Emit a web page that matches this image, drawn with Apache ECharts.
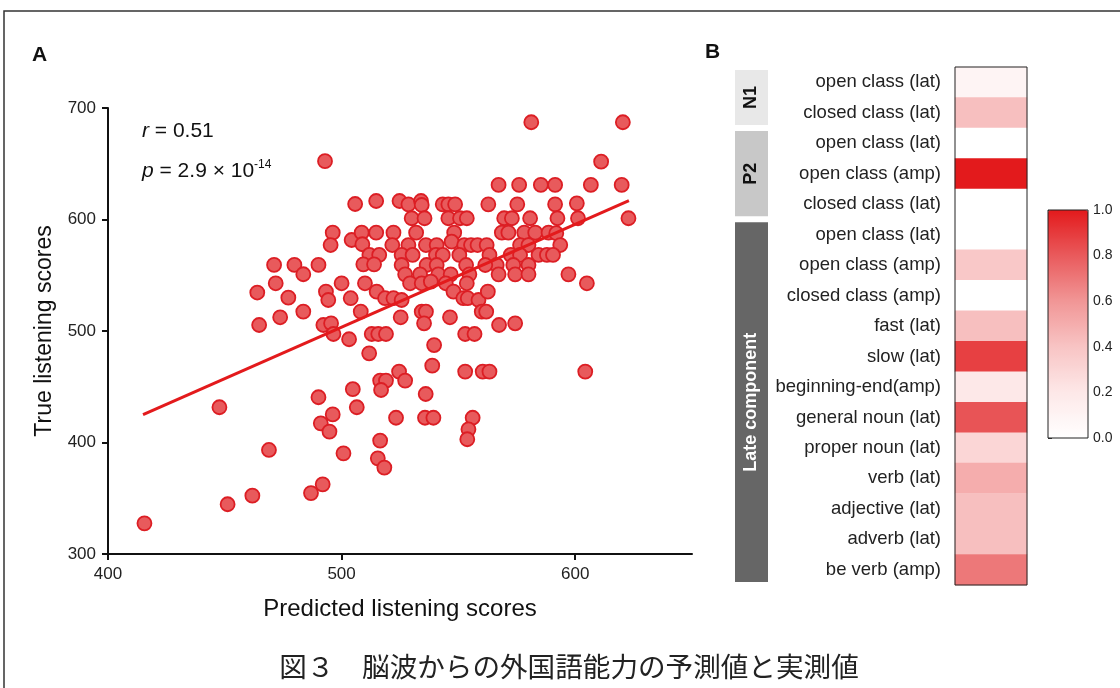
<!DOCTYPE html>
<html>
<head>
<meta charset="utf-8">
<script src="https://cdn.jsdelivr.net/npm/echarts@6/dist/echarts.min.js"></script>
<style>
    html, body { margin: 0; padding: 0; background: #fff; }
    #chart { width: 1120px; height: 688px; }
</style>
</head>
<body>
<div id="chart"></div>
<script>
    // A: predicted vs true listening scores
    var predicted = [
        492.9, 505.8, 514.8, 496.2, 495.3, 504.3, 508.6, 514.8, 508.9, 511.9,
        516.1, 522.2, 521.7, 509.3, 513.9, 471.1, 479.8, 490.1, 483.6, 471.8,
        463.9, 477.2, 483.6, 473.7, 464.7, 493.3, 494.3, 500.0, 510.0, 503.9,
        515.0, 518.6, 522.2, 508.2, 492.2, 495.5,
        581.2, 620.4, 611.1, 567.2, 576.0, 585.3, 591.4, 606.7, 619.9, 524.8,
        528.6, 534.0, 534.3, 543.3, 545.7, 548.6, 562.8, 575.2, 591.4, 600.7,
        530.0, 535.5, 545.7, 550.7, 553.6, 569.6, 572.9, 580.7, 592.4, 601.2,
        622.8, 531.9, 548.2, 568.6, 571.4, 578.2, 582.9, 588.6, 591.9, 547.1,
        528.6, 536.1, 540.7, 552.5, 555.4, 558.2, 562.1, 576.4, 580.0, 593.6,
        525.7, 530.4, 540.4, 543.3, 550.4, 563.3, 572.4, 576.4, 584.3, 587.9,
        590.5, 525.7, 536.4, 540.7, 553.3, 566.4, 573.5, 580.0, 561.5, 527.2,
        533.6, 541.4, 546.7, 554.7, 567.2, 574.3, 580.0, 597.1, 529.3, 534.3,
        538.2, 544.6, 553.6, 605.0, 525.7, 547.9, 552.1, 554.0, 558.6, 562.6,
        534.3, 536.1, 560.0, 561.9, 525.3, 546.4, 535.3, 567.4, 574.3,
        447.7, 415.6, 451.2, 461.8, 468.9, 496.5, 503.2, 511.8, 512.9, 515.7,
        519.0, 539.6, 538.8, 552.9, 556.9, 524.6, 527.2, 516.5, 519.0, 516.9,
        504.8, 506.5, 490.1, 496.2, 491.1, 494.8, 500.8, 491.9, 486.9, 523.3,
        516.5, 515.5, 518.3, 536.0, 535.7, 539.3, 552.9, 560.4, 563.3, 556.1,
        554.3, 553.8, 604.3
    ];
    var actual = [
        652.3, 613.9, 616.6, 588.2, 577.1, 581.6, 588.2, 588.2, 577.8, 568.2,
        568.2, 588.2, 577.1, 559.8, 559.8, 559.3, 559.3, 559.3, 550.9, 542.8,
        534.5, 529.9, 517.4, 512.3, 505.4, 535.3, 527.8, 542.8, 542.8, 529.4,
        535.3, 529.4, 529.4, 517.4, 505.4, 506.9,
        687.2, 687.2, 651.9, 631.0, 631.0, 631.0, 631.0, 631.0, 631.0, 616.6,
        613.6, 616.6, 613.0, 613.6, 613.6, 613.6, 613.6, 613.6, 613.6, 614.5,
        601.1, 601.1, 601.1, 601.1, 601.1, 601.1, 601.1, 601.1, 601.1, 601.1,
        601.1, 588.2, 588.2, 588.2, 588.2, 588.2, 588.2, 588.2, 587.7, 580.1,
        577.1, 577.1, 577.1, 577.1, 577.1, 577.1, 577.1, 577.1, 577.1, 577.1,
        568.2, 568.2, 568.2, 568.2, 568.2, 568.2, 568.2, 568.2, 568.2, 568.2,
        568.2, 559.2, 559.2, 559.2, 559.2, 559.2, 559.2, 559.2, 559.2, 550.8,
        550.8, 550.8, 550.8, 550.8, 550.8, 550.8, 550.8, 550.8, 542.8, 542.8,
        544.3, 542.8, 542.8, 542.8, 527.8, 535.3, 529.4, 529.4, 527.8, 535.3,
        517.3, 517.3, 517.3, 517.3, 512.3, 512.3, 506.9, 505.4, 506.9,
        431.6, 327.5, 344.6, 352.3, 393.3, 497.3, 492.6, 480.0, 497.3, 497.3,
        497.3, 487.4, 468.9, 497.3, 497.3, 463.6, 455.5, 455.5, 455.5, 447.1,
        447.8, 431.6, 440.6, 425.2, 417.2, 409.8, 390.3, 362.5, 354.6, 422.2,
        401.7, 385.8, 377.5, 443.5, 422.2, 422.2, 463.6, 463.6, 463.6, 422.2,
        411.8, 402.9, 463.6
    ];
    var fitX = [415, 623];
    var fitY = [425, 617];
    var xTicks = [400, 500, 600];

    // B: feature weights
    var rowLabels = [
        'open class (lat)', 'closed class (lat)', 'open class (lat)', 'open class (amp)',
        'closed class (lat)', 'open class (lat)', 'open class (amp)', 'closed class (amp)',
        'fast (lat)', 'slow (lat)', 'beginning-end(amp)', 'general noun (lat)',
        'proper noun (lat)', 'verb (lat)', 'adjective (lat)', 'adverb (lat)', 'be verb (amp)'
    ];
    var rowValues = [0.1, 0.42, 0, 1, 0, 0, 0.38, 0, 0.42, 0.88, 0.2, 0.82, 0.3, 0.5, 0.42, 0.42, 0.7];
    var groupNames = ['N1', 'P2', 'Late component'];
    var groupFrom = [0, 2, 5];
    var groupTo = [1, 4, 16];
    var groupFill = ['#e8e8e8', '#c8c8c8', '#666666'];
    var groupInk = ['#111111', '#111111', '#ffffff'];

    var FONT = '"Liberation Sans", Arial, sans-serif';

    var scatterData = predicted.map(function (v, i) { return [v, actual[i]]; });
    var fitData = fitX.map(function (v, i) { return [v, fitY[i]]; });
    var heatData = rowValues.map(function (v, i) { return [0, i, v]; });
    var groupData = groupNames.map(function (n, i) { return [0, groupFrom[i], groupTo[i], i]; });

    var chart = echarts.init(document.getElementById('chart'));
    chart.setOption({
        backgroundColor: '#fff',
        animation: false,
        textStyle: { fontFamily: FONT },
        grid: [
            { left: 108, top: 108, width: 584, height: 446 },
            { left: 955, top: 67, width: 72, height: 518, show: true, z: 10,
              backgroundColor: 'transparent', borderColor: '#222', borderWidth: 1 },
            { left: 1048, top: 210, width: 40, height: 228, show: true, z: 10,
              backgroundColor: 'transparent', borderColor: '#222', borderWidth: 1 }
        ],
        xAxis: [
            {
                gridIndex: 0, type: 'value', min: 400, max: 650,
                name: 'Predicted listening scores', nameLocation: 'middle', nameGap: 43,
                nameTextStyle: { fontSize: 24, color: '#111' },
                axisLine: { lineStyle: { color: '#111', width: 2 } },
                axisTick: { customValues: xTicks, length: 6, lineStyle: { color: '#111', width: 2 } },
                axisLabel: { customValues: xTicks, fontSize: 17, color: '#222', margin: 12 },
                splitLine: { show: false }
            },
            { gridIndex: 1, type: 'category', data: ['w'], show: false },
            { gridIndex: 2, type: 'value', show: false }
        ],
        yAxis: [
            {
                gridIndex: 0, type: 'value', min: 300, max: 700, interval: 100,
                name: 'True listening scores', nameLocation: 'middle', nameGap: 52, nameRotate: 90,
                nameTextStyle: { fontSize: 23, color: '#111' },
                axisLine: { show: true, lineStyle: { color: '#111', width: 2 } },
                axisTick: { show: true, length: 6, lineStyle: { color: '#111', width: 2 } },
                axisLabel: { fontSize: 17, color: '#222', margin: 12 },
                splitLine: { show: false }
            },
            {
                gridIndex: 1, type: 'category', data: rowLabels, inverse: true,
                axisLine: { show: false }, axisTick: { show: false },
                axisLabel: { fontSize: 18.5, color: '#222', margin: 14 },
                splitLine: { show: false }
            },
            {
                gridIndex: 2, type: 'value', min: 0, max: 1, interval: 0.2, position: 'right',
                axisLine: { show: false },
                axisTick: { show: true, length: 4, lineStyle: { color: '#333' } },
                axisLabel: { fontSize: 14, color: '#222', margin: 5,
                    formatter: function (v) { return v.toFixed(1); } },
                splitLine: { show: false }
            }
        ],
        visualMap: {
            type: 'continuous', min: 0, max: 1, seriesIndex: 2,
            left: 1048, top: 210, itemWidth: 40, itemHeight: 228, padding: 0,
            calculable: false, text: ['', ''], hoverLink: false,
            inRange: { color: ['#ffffff', '#fde8e8', '#f8c4c4', '#f19696', '#e95a5c', '#e31a1c'] }
        },
        series: [
            {
                type: 'scatter', xAxisIndex: 0, yAxisIndex: 0, data: scatterData,
                symbolSize: 14,
                itemStyle: { color: '#e85a5c', borderColor: '#dc1e24', borderWidth: 1.8, opacity: 1 }
            },
            {
                type: 'line', xAxisIndex: 0, yAxisIndex: 0, data: fitData, z: 5,
                symbol: 'none', lineStyle: { color: '#e31a1c', width: 3 }
            },
            {
                type: 'heatmap', xAxisIndex: 1, yAxisIndex: 1, data: heatData
            },
            {
                type: 'custom', xAxisIndex: 1, yAxisIndex: 1, data: groupData, clip: false,
                renderItem: function (params, api) {
                    var top = api.coord([0, api.value(1)]);
                    var bot = api.coord([0, api.value(2)]);
                    var h = api.size([0, 1])[1];
                    var y0 = top[1] - h / 2 + 3;
                    var y1 = bot[1] + h / 2 - 3;
                    var i = api.value(3);
                    var x0 = params.coordSys.x - 220;
                    return {
                        type: 'group',
                        children: [
                            { type: 'rect', shape: { x: x0, y: y0, width: 33, height: y1 - y0 },
                              style: { fill: groupFill[i] } },
                            { type: 'text', x: x0 + 16.5, y: (y0 + y1) / 2, rotation: Math.PI / 2,
                              style: { text: groupNames[i], fill: groupInk[i],
                                       font: 'bold 18px ' + FONT,
                                       align: 'center', verticalAlign: 'middle' } }
                        ]
                    };
                }
            }
        ],
        graphic: [
            { type: 'polyline', shape: { points: [[4, 688], [4, 11], [1120, 11]] },
              style: { stroke: '#333', lineWidth: 1.5, fill: null } },
            { type: 'text', left: 32, top: 45, style: { text: 'A', font: 'bold 21px ' + FONT, fill: '#111' } },
            { type: 'text', left: 705, top: 42, style: { text: 'B', font: 'bold 21px ' + FONT, fill: '#111' } },
            { type: 'text', left: 142, top: 121, style: {
                text: '{i|r} = 0.51', font: '21px ' + FONT, fill: '#111',
                rich: { i: { fontStyle: 'italic', fontSize: 21, fontFamily: FONT } } } },
            { type: 'text', left: 142, top: 159, style: {
                text: '{i|p} = 2.9 × 10{s|-14}', font: '21px ' + FONT, fill: '#111',
                rich: { i: { fontStyle: 'italic', fontSize: 21, fontFamily: FONT },
                        s: { fontSize: 12, fontFamily: FONT, padding: [0, 0, 12, 0] } } } },
            { type: 'text', x: 569, y: 667, style: {
                text: '図３　脳波からの外国語能力の予測値と実測値', font: '27.6px "Noto Sans CJK JP"',
                fill: '#222', align: 'center', verticalAlign: 'middle' } }
        ]
    });
</script>
</body>
</html>
